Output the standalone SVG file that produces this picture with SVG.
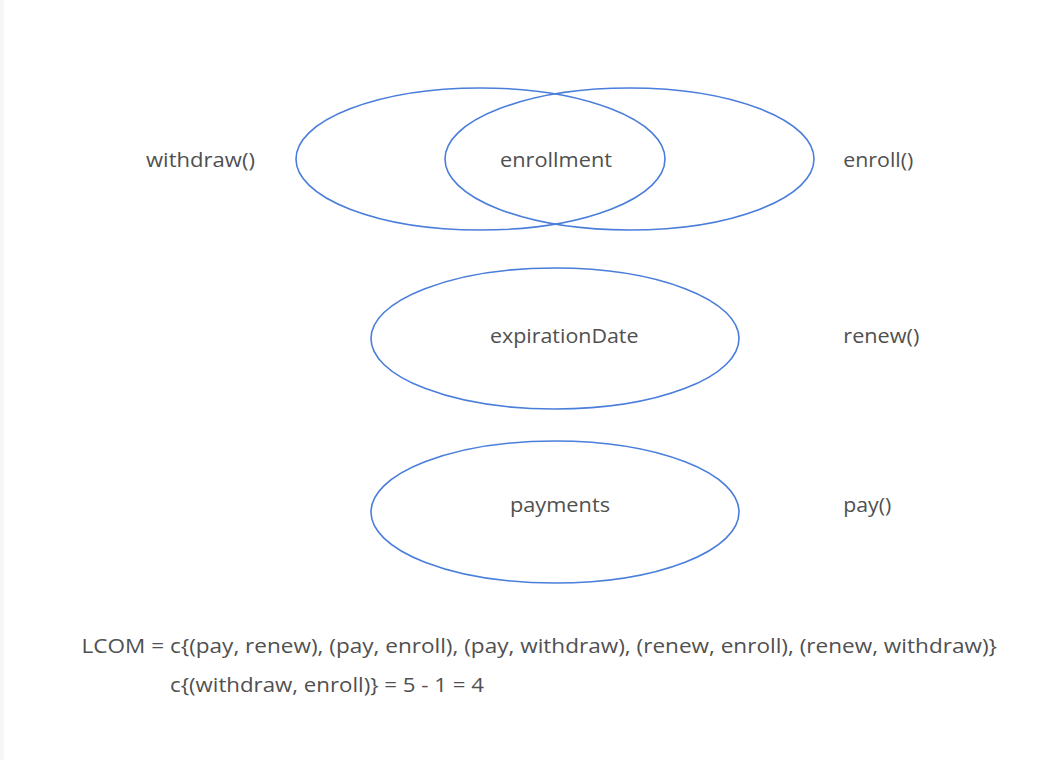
<svg xmlns="http://www.w3.org/2000/svg" width="1064" height="760" viewBox="0 0 1064 760">
<style>
.set{fill:none;stroke:#4a7edb;stroke-width:1.6}
.t{font-family:"Open Sans","Liberation Sans",sans-serif;font-size:20px;fill:#505050}
</style>
<rect x="0" y="0" width="1064" height="760" fill="#ffffff"/>
<rect x="0" y="0" width="4" height="760" fill="#f6f6f6"/>
<g id="withdraw-set"><ellipse class="set" cx="480.5" cy="159" rx="184.5" ry="71"/></g>
<g id="enroll-set"><ellipse class="set" cx="629.5" cy="159" rx="184.5" ry="71"/></g>
<g id="enrollment"><text class="t" x="500" y="167" textLength="112" lengthAdjust="spacingAndGlyphs">enrollment</text></g>
<g id="expirationDate"><ellipse class="set" cx="555" cy="338.5" rx="184" ry="70.5"/><text class="t" x="490" y="342.5" textLength="148.5" lengthAdjust="spacingAndGlyphs">expirationDate</text></g>
<g id="payments"><ellipse class="set" cx="555" cy="512" rx="184" ry="71"/><text class="t" x="510" y="512" textLength="100" lengthAdjust="spacingAndGlyphs">payments</text></g>
<g id="withdraw"><text class="t" x="146" y="167" textLength="109" lengthAdjust="spacingAndGlyphs">withdraw()</text></g>
<g id="enroll"><text class="t" x="843.3" y="167" textLength="70" lengthAdjust="spacingAndGlyphs">enroll()</text></g>
<g id="renew"><text class="t" x="843.3" y="342.5" textLength="76" lengthAdjust="spacingAndGlyphs">renew()</text></g>
<g id="pay"><text class="t" x="843.3" y="512" textLength="48" lengthAdjust="spacingAndGlyphs">pay()</text></g>
<g id="connectors"></g>
<g id="formula">
<text class="t" x="81.5" y="653.3" textLength="915.5" lengthAdjust="spacingAndGlyphs">LCOM = c{(pay, renew), (pay, enroll), (pay, withdraw), (renew, enroll), (renew, withdraw)}</text>
<text class="t" x="170" y="691.7" textLength="314" lengthAdjust="spacingAndGlyphs">c{(withdraw, enroll)} = 5 - 1 = 4</text>
</g>
</svg>
